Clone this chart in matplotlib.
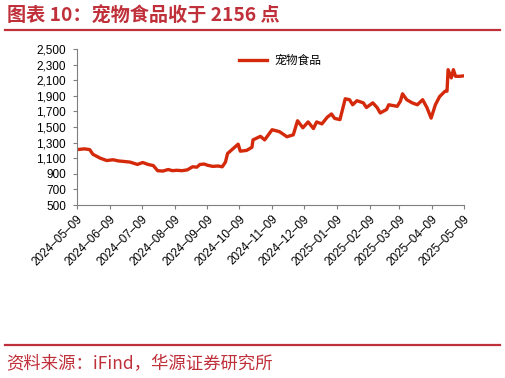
import matplotlib
matplotlib.use("Agg")
import matplotlib.pyplot as plt
import matplotlib.transforms as mtransforms
import pandas as pd
from matplotlib.lines import Line2D
from matplotlib.ticker import FuncFormatter

plt.rcParams['font.family'] = ['Noto Sans CJK SC', 'DejaVu Sans']

# 宠物食品指数
dates = ['2024-05-09', '2024-05-16', '2024-05-21', '2024-05-24', '2024-05-31',
         '2024-06-06', '2024-06-12', '2024-06-17', '2024-06-21', '2024-06-28',
         '2024-07-05', '2024-07-10', '2024-07-15', '2024-07-20', '2024-07-24',
         '2024-07-29', '2024-08-03', '2024-08-07', '2024-08-11', '2024-08-16',
         '2024-08-21', '2024-08-26', '2024-08-30', '2024-09-02', '2024-09-06',
         '2024-09-09', '2024-09-14', '2024-09-19', '2024-09-23', '2024-09-26',
         '2024-09-28', '2024-10-08', '2024-10-10', '2024-10-16', '2024-10-21',
         '2024-10-22', '2024-10-29', '2024-11-02', '2024-11-09', '2024-11-16',
         '2024-11-23', '2024-11-29', '2024-12-03', '2024-12-08', '2024-12-13',
         '2024-12-18', '2024-12-21', '2024-12-26', '2024-12-31', '2025-01-04',
         '2025-01-07', '2025-01-12', '2025-01-17', '2025-01-21', '2025-01-24',
         '2025-01-28', '2025-02-03', '2025-02-06', '2025-02-12', '2025-02-16',
         '2025-02-19', '2025-02-25', '2025-02-27', '2025-03-07', '2025-03-10',
         '2025-03-12', '2025-03-16', '2025-03-21', '2025-03-26', '2025-03-31',
         '2025-04-04', '2025-04-08', '2025-04-12', '2025-04-16', '2025-04-21',
         '2025-04-23', '2025-04-24', '2025-04-27', '2025-04-29', '2025-05-01',
         '2025-05-05', '2025-05-09']
values = [1210, 1220, 1210, 1150, 1100,
          1070, 1080, 1065, 1060, 1050,
          1020, 1045, 1020, 1005, 940,
          935, 955, 940, 945, 940,
          950, 990, 985, 1020, 1025,
          1010, 995, 1000, 990, 1050,
          1160, 1280, 1190, 1200, 1240,
          1335, 1380, 1335, 1465, 1440,
          1375, 1400, 1580, 1490, 1565,
          1480, 1565, 1540, 1625, 1667,
          1610, 1595, 1862, 1850, 1785,
          1837, 1810, 1750, 1810, 1750,
          1680, 1725, 1785, 1765, 1830,
          1926, 1850, 1810, 1785, 1850,
          1750, 1614, 1785, 1890, 1957,
          1960, 2235, 2130, 2235, 2150,
          2150, 2156]
tick_dates = ['2024-05-09', '2024-06-09', '2024-07-09', '2024-08-09', '2024-09-09',
              '2024-10-09', '2024-11-09', '2024-12-09', '2025-01-09', '2025-02-09',
              '2025-03-09', '2025-04-09', '2025-05-09']
series_name = '宠物食品'

df = pd.DataFrame({'date': pd.to_datetime(dates), 'value': values})
ticks = pd.to_datetime(tick_dates)

red = '#C0303A'
line_red = '#D42A0B'
grey = '#7F7F7F'
tick_font = ['Liberation Sans', 'DejaVu Sans']

fig = plt.figure(figsize=(5.06, 3.78), dpi=100)
ax = fig.add_axes([77/506, 1-205/378, 387/506, 156/378])

ax.plot(df['date'], df['value'], color=line_red, lw=2.4, solid_joinstyle='round')

ax.set_ylim(500, 2500)
ax.set_yticks(range(500, 2501, 200))
ax.yaxis.set_major_formatter(FuncFormatter(lambda v, p: f'{int(v):,}'))
ax.set_xlim(ticks[0], ticks[-1])
ax.set_xticks(ticks)
ax.set_xticklabels([d.strftime('%Y\u2013%m\u2013%d') for d in ticks], rotation=45,
                   ha='right', va='center', rotation_mode='anchor')

for s in ['top', 'right']:
    ax.spines[s].set_visible(False)
for s in ['left', 'bottom']:
    ax.spines[s].set_color(grey)
    ax.spines[s].set_linewidth(0.8)
ax.tick_params(axis='both', colors=grey, length=3, width=0.8, labelsize=8.5,
               labelcolor='black')
ax.tick_params(axis='y', pad=5)
ax.tick_params(axis='x', pad=6)
shift = mtransforms.ScaledTranslation(4/100, 0, fig.dpi_scale_trans)
for lbl in ax.get_xticklabels():
    lbl.set_fontfamily(tick_font)
    lbl.set_transform(lbl.get_transform() + shift)
for lbl in ax.get_yticklabels():
    lbl.set_fontfamily(tick_font)

ax.legend([Line2D([0], [0], color=line_red, lw=2.4)], [series_name],
          loc='upper left', bbox_to_anchor=(0.39, 1.035), frameon=False,
          fontsize=8.5, handlelength=2.4, handletextpad=0.6)

# header and footer
fig.text(7/506, 1-16/378, '图表 10：宠物食品收于 2156 点', color=red,
         fontsize=13.8, fontweight='bold', va='center', ha='left')
fig.add_artist(Line2D([5/506, 500/506], [1-29.5/378, 1-29.5/378], color=red, lw=1.6))
fig.add_artist(Line2D([5/506, 500/506], [1-344.5/378, 1-344.5/378], color=red, lw=1.6))
fig.text(6/506, 1-364/378, '资料来源：iFind，华源证券研究所', color=red,
         fontsize=12.5, va='center', ha='left')

fig.savefig('out.png', dpi=100)
